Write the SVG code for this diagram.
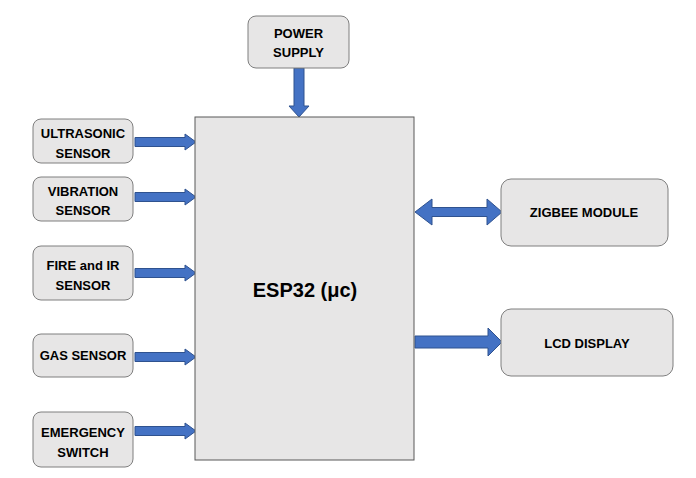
<svg xmlns="http://www.w3.org/2000/svg" width="696" height="478" viewBox="0 0 696 478">
<style>
.box{fill:#E7E6E6;stroke:#7F7F7F;stroke-width:1}
.main{fill:#E7E6E6;stroke:#595959;stroke-width:1}
.arr{fill:#4472C4;stroke:#2F528F;stroke-width:1}
text{font-family:"Liberation Sans",Arial,sans-serif;font-weight:bold;font-size:13px;fill:#000;text-anchor:middle}
.big{font-size:20px}
</style>
<rect width="696" height="478" fill="#fff"/>
<g id="connectors">
<path class="arr" d="M294,68 H304 V106 H309 L299,117 L289,106 H294 Z"/>
<path class="arr" d="M135,137.5 H185 V134 L196,142 L185,150 V146.5 H135 Z"/>
<path class="arr" d="M135,192.5 H185 V189 L196,197 L185,205 V201.5 H135 Z"/>
<path class="arr" d="M135,268.5 H185 V265 L196,273 L185,281 V277.5 H135 Z"/>
<path class="arr" d="M135,352.5 H185 V349 L196,357 L185,365 V361.5 H135 Z"/>
<path class="arr" d="M135,426.5 H185 V423 L196,431 L185,439 V435.5 H135 Z"/>
<path class="arr" d="M415,212 L432,199 V207.5 H487 V199 L502,212 L487,225 V216.5 H432 V225 Z"/>
<path class="arr" d="M415,336 H488 V328 L502,342 L488,356 V348 H415 Z"/>
</g>
<g id="esp32">
<rect class="main" x="195" y="117" width="219" height="343"/>
<text class="big" x="305" y="297">ESP32 (μc)</text>
</g>
<g id="power">
<rect class="box" x="248" y="16" width="101" height="52" rx="8"/>
<text x="298.5" y="38">POWER</text>
<text x="298.5" y="57">SUPPLY</text>
</g>
<g id="ultrasonic">
<rect class="box" x="33" y="119" width="100" height="44" rx="8"/>
<text x="83" y="137.5">ULTRASONIC</text>
<text x="83" y="157.5">SENSOR</text>
</g>
<g id="vibration">
<rect class="box" x="33" y="177" width="100" height="44" rx="8"/>
<text x="83" y="195.5">VIBRATION</text>
<text x="83" y="214.5">SENSOR</text>
</g>
<g id="fire">
<rect class="box" x="33" y="246" width="100" height="54" rx="8"/>
<text x="83" y="270">FIRE and IR</text>
<text x="83" y="290">SENSOR</text>
</g>
<g id="gas">
<rect class="box" x="33" y="334" width="100" height="43" rx="8"/>
<text x="83" y="360">GAS SENSOR</text>
</g>
<g id="emergency">
<rect class="box" x="33" y="412" width="100" height="55" rx="8"/>
<text x="83" y="437">EMERGENCY</text>
<text x="83" y="457">SWITCH</text>
</g>
<g id="zigbee">
<rect class="box" x="501" y="179" width="167" height="67" rx="10"/>
<text x="584" y="217">ZIGBEE MODULE</text>
</g>
<g id="lcd">
<rect class="box" x="501" y="309" width="172" height="67" rx="10"/>
<text x="587" y="348">LCD DISPLAY</text>
</g>
</svg>
